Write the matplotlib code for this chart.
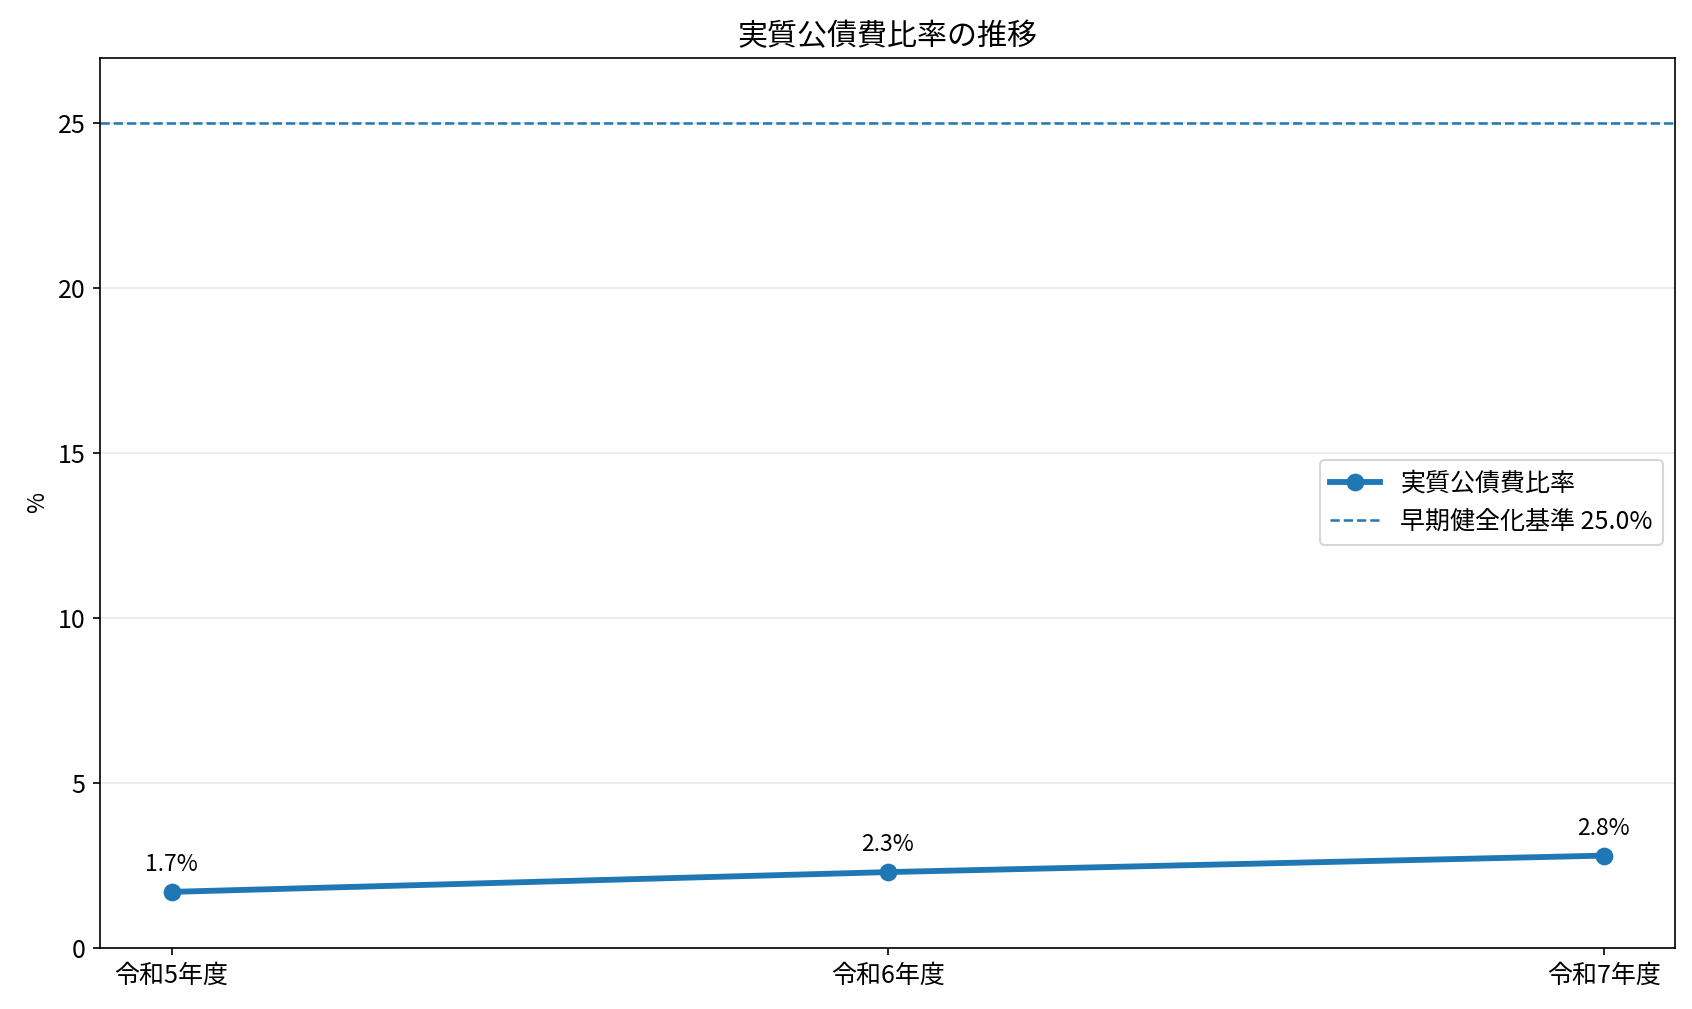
import matplotlib
matplotlib.use("Agg")
from matplotlib import pyplot as plt

plt.rcParams['font.family'] = ['Noto Sans CJK JP', 'DejaVu Sans']

years = ['令和5年度', '令和6年度', '令和7年度']
ratios = [1.7, 2.3, 2.8]
threshold = 25.0

fig = plt.figure(figsize=(1692 / 150, 1009 / 150), dpi=150)
ax = fig.add_axes([0.0591, 0.0605, 0.9311, 0.8825])

x = list(range(len(years)))
ax.plot(x, ratios, marker='o', linewidth=2.8, markersize=7.5, color='#1f77b4', label='実質公債費比率')
ax.axhline(threshold, linestyle='--', linewidth=1.2, color='#1f77b4', label=f'早期健全化基準 {threshold:.1f}%')

for xi, v in zip(x, ratios):
    ax.annotate(f'{v:.1f}%', (xi, v), textcoords='offset points', xytext=(0, 10),
                ha='center', fontsize=11)

ax.set_xticks(x)
ax.set_xticklabels(years, fontsize=12)
ax.tick_params(axis='y', labelsize=12)
ax.set_xlim(-0.1, 2.1)
ax.set_ylim(0, 27)
ax.set_ylabel('%', fontsize=11)
ax.set_title('実質公債費比率の推移', fontsize=14.4)
ax.grid(axis='y', alpha=0.3)
ax.legend(loc='center right', fontsize=12)

fig.savefig('out.png', dpi=150)
